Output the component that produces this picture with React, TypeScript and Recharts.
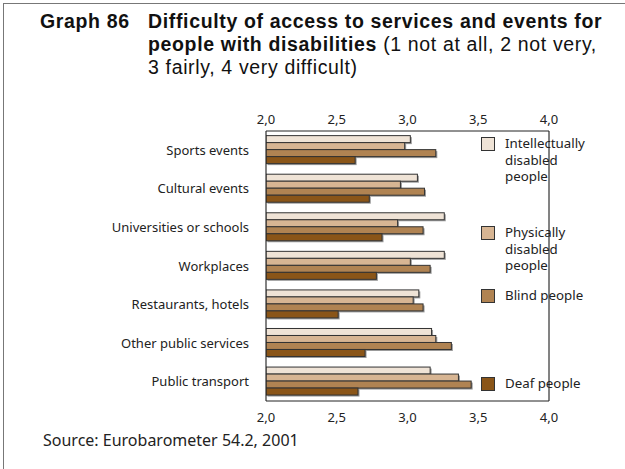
import React from "react";
import {
  BarChart,
  Bar,
  XAxis,
  YAxis,
  CartesianGrid,
  Legend,
} from "recharts";

const categories = [
  "Sports events",
  "Cultural events",
  "Universities or schools",
  "Workplaces",
  "Restaurants, hotels",
  "Other public services",
  "Public transport",
];
const intellectual = [3.02, 3.07, 3.26, 3.26, 3.08, 3.17, 3.16];
const physical = [2.98, 2.95, 2.93, 3.02, 3.04, 3.2, 3.36];
const blind = [3.2, 3.12, 3.11, 3.16, 3.11, 3.31, 3.45];
const deaf = [2.63, 2.73, 2.82, 2.78, 2.51, 2.7, 2.65];
const xTicks = [2, 2.5, 3, 3.5, 4];

const seriesNames = [
  "Intellectually disabled people",
  "Physically disabled people",
  "Blind people",
  "Deaf people",
];
const seriesKeys = ["intellectual", "physical", "blind", "deaf"];
const colors = ["#efe3d6", "#d7b593", "#b08352", "#8a5518"];

const data = categories.map((c, i) => ({
  name: c,
  intellectual: intellectual[i],
  physical: physical[i],
  blind: blind[i],
  deaf: deaf[i],
}));

const FONT = "'Noto Sans', sans-serif";
const TITLE_FONT = "'Liberation Sans', sans-serif";

const ShadowBar = (props: any) => {
  const { x, y, width, height, fill } = props;
  if (!width || width <= 0) return null;
  return (
    <g>
      <rect x={x + 1.5} y={y + 1.5} width={width} height={height} fill="#9a9a9a" />
      <rect x={x} y={y} width={width} height={height} fill={fill} stroke="#333" strokeWidth={1} />
    </g>
  );
};

const legendTops = [137, 226, 289, 377];
const legendLines = [
  ["Intellectually", "disabled", "people"],
  ["Physically", "disabled", "people"],
  ["Blind people"],
  ["Deaf people"],
];

const LegendContent = () => (
  <div style={{ position: "relative", width: 0, height: 0 }}>
    {legendLines.map((lines, i) => (
      <div
        key={i}
        style={{
          position: "absolute",
          left: 481,
          top: legendTops[i],
          display: "flex",
          alignItems: "flex-start",
          fontFamily: FONT,
          fontSize: 13.3,
          color: "#222",
        }}
      >
        <div
          style={{
            width: 12,
            height: 12,
            background: colors[i],
            border: "1px solid #333",
            flex: "none",
          }}
        />
        <div style={{ marginLeft: 10, lineHeight: "16.5px", marginTop: -2, whiteSpace: "nowrap" }}>
          {lines.map((l, j) => (
            <div key={j}>{l}</div>
          ))}
        </div>
      </div>
    ))}
  </div>
);

const fmt = (v: number) => v.toFixed(1).replace(".", ",");

export default function App() {
  return (
    <div
      style={{
        position: "absolute",
        left: 0,
        top: 0,
        width: 625,
        height: 469,
        background: "#fff",
        overflow: "hidden",
      }}
    >
      <div
        style={{
          position: "absolute",
          left: 3,
          top: 3,
          width: 640,
          height: 480,
          borderLeft: "1px solid #777",
          borderTop: "1px solid #777",
        }}
      />
      <div
        style={{
          position: "absolute",
          left: 40,
          top: 10,
          fontFamily: TITLE_FONT,
          fontSize: 19.5,
          letterSpacing: 0.65,
          lineHeight: "23px",
          color: "#111",
          display: "flex",
          whiteSpace: "nowrap",
        }}
      >
        <div style={{ fontWeight: "bold", width: 108 }}>Graph 86</div>
        <div>
          <div style={{ fontWeight: "bold" }}>Difficulty of access to services and events for</div>
          <div>
            <span style={{ fontWeight: "bold" }}>people with disabilities</span> (1 not at all, 2 not very,
          </div>
          <div>3 fairly, 4 very difficult)</div>
        </div>
      </div>
      <div style={{ position: "absolute", left: 0, top: 0 }}>
        <BarChart
          width={625}
          height={469}
          data={data}
          layout="vertical"
          margin={{ top: 101, right: 75, bottom: 38, left: 0 }}
          barCategoryGap="12%"
          barGap={0}
        >
          <CartesianGrid horizontal={false} vertical={true} stroke="#c8c8c8" />
          <XAxis
            xAxisId="top"
            orientation="top"
            type="number"
            domain={[2, 4]}
            ticks={xTicks}
            tickFormatter={fmt}
            tickLine={false}
            axisLine={{ stroke: "#222" }}
            height={30}
            tickMargin={1}
            tick={{ fontFamily: FONT, fontSize: 13, fill: "#222" }}
            allowDataOverflow
          />
          <XAxis
            xAxisId="bottom"
            orientation="bottom"
            type="number"
            domain={[2, 4]}
            ticks={xTicks}
            tickFormatter={fmt}
            tickLine={false}
            axisLine={{ stroke: "#222" }}
            height={30}
            tickMargin={6}
            tick={{ fontFamily: FONT, fontSize: 13, fill: "#222" }}
            allowDataOverflow
          />
          <YAxis
            yAxisId="left"
            type="category"
            dataKey="name"
            width={266}
            tickLine={false}
            tickSize={0}
            tickMargin={17}
            axisLine={{ stroke: "#222" }}
            tick={{ fontFamily: FONT, fontSize: 13, fill: "#222" }}
          />
          <YAxis
            yAxisId="right"
            orientation="right"
            type="category"
            dataKey="name"
            width={1}
            tick={false}
            tickLine={false}
            axisLine={{ stroke: "#222" }}
          />
          <Legend content={<LegendContent />} wrapperStyle={{ position: "absolute", left: 0, top: 0, width: 0, height: 0 }} />
          {seriesKeys.map((k, i) => (
            <Bar
              key={k}
              dataKey={k}
              name={seriesNames[i]}
              xAxisId="bottom"
              yAxisId="left"
              fill={colors[i]}
              shape={<ShadowBar />}
              isAnimationActive={false}
            />
          ))}
        </BarChart>
      </div>
      <div
        style={{
          position: "absolute",
          left: 43,
          top: 429,
          fontFamily: FONT,
          fontSize: 16,
          color: "#222",
        }}
      >
        Source: Eurobarometer 54.2, 2001
      </div>
    </div>
  );
}
